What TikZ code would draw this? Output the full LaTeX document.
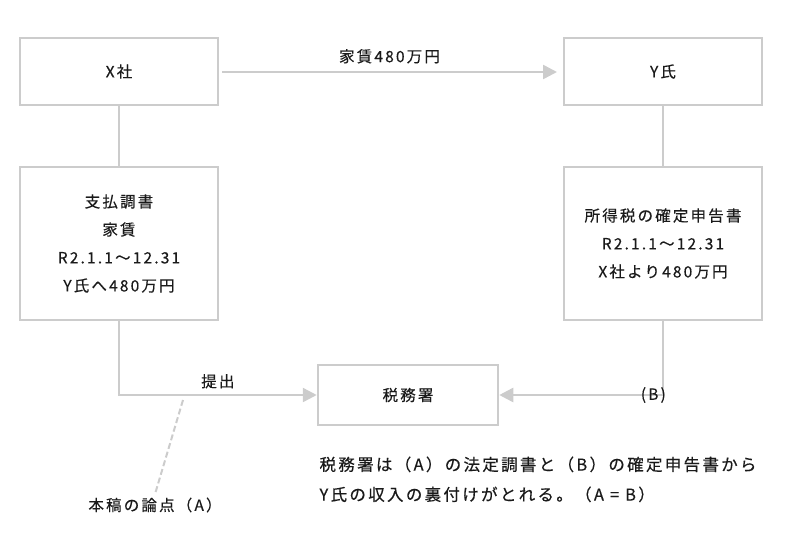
\documentclass[tikz,border=0pt]{standalone}
\usepackage{fontspec}
\setmainfont[LetterSpace=14,FakeBold=0.4]{Noto Sans CJK JP}
\usetikzlibrary{arrows.meta,positioning}
\definecolor{boxgray}{HTML}{CCCCCC}
\definecolor{txt}{HTML}{1A1A1A}
\tikzset{
  box/.style={draw=boxgray, line width=2.5pt, minimum width=198pt, align=center,
    text=txt, font=\fontsize{15.5}{28}\selectfont},
  link/.style={draw=boxgray, line width=2.5pt},
  flow/.style={link, -{Triangle[length=14pt,width=14pt]}},
  lbl/.style={text=txt, font=\fontsize{15.5}{20}\selectfont}
}
\begin{document}
\begin{tikzpicture}[x=1pt,y=-1pt]
\useasboundingbox (0,0) rectangle (800,552);

\node[box, minimum height=67pt] (xsha) at (119,71.5) {X社};
\node[box, minimum height=67pt] (yshi) at (663,71.5) {Y氏};
\node[box, minimum height=153pt] (shiharai) at (119,243.5) {支払調書\\家賃\\R2.1.1～12.31\\Y氏へ480万円};
\node[box, minimum height=153pt] (shinkoku) at (663,243.5) {所得税の確定申告書\\R2.1.1～12.31\\X社より480万円};
\node[box, minimum width=180pt, minimum height=60pt] (zeimusho) at (408,395) {税務署};

\coordinate (ya) at (222,72);
\coordinate (yb) at (557,72);
\draw[flow] (ya) -- node[lbl, above=4pt] {家賃480万円} (yb);

\draw[link] (xsha) -- (shiharai);
\draw[link] (yshi) -- (shinkoku);

\draw[flow] (shiharai.south) |- node[lbl, pos=0.75, above=2pt] {提出} (zeimusho.west);
\draw[flow] (shinkoku.south) |- node[lbl, pos=0.6, right=6pt] {(B)} (zeimusho.east);

% dashed pointer to the issue
\coordinate (dtop) at (183,400);
\node[lbl] (ronten) at (155,505) {本稿の論点（A）};
\draw[boxgray, line width=2pt, dash pattern=on 6pt off 3pt] (dtop) -- (ronten.north);

\node[lbl, anchor=north west, align=left, font=\fontsize{16.5}{30}\selectfont] (note) at (316,453)
  {税務署は（A）の法定調書と（B）の確定申告書から\\Y氏の収入の裏付けがとれる。（A = B）};
\end{tikzpicture}
\end{document}
